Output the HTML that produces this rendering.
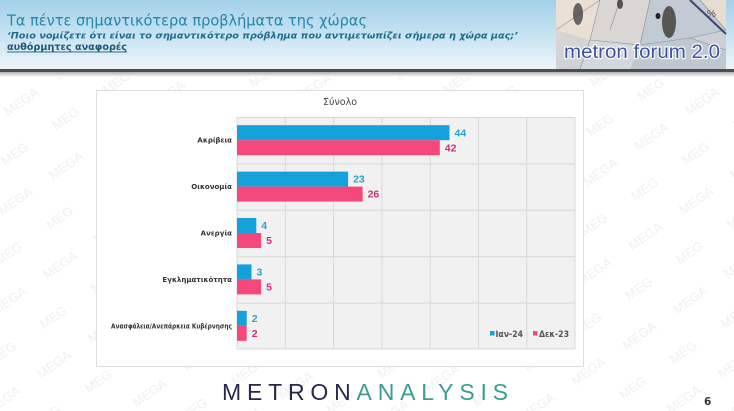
<!DOCTYPE html>
<html>
<head>
<meta charset="utf-8">
<style>
html,body{margin:0;padding:0;background:#fff;}
svg{display:block;}
</style>
</head>
<body>
<svg width="734" height="411" viewBox="0 0 734 411" xmlns="http://www.w3.org/2000/svg">
  <defs>
    <linearGradient id="hdr" x1="0" y1="0" x2="0" y2="1">
      <stop offset="0" stop-color="#a3d0e9"/>
      <stop offset="0.45" stop-color="#c3e1f1"/>
      <stop offset="1" stop-color="#eef5f9"/>
    </linearGradient>
    <linearGradient id="shd" x1="0" y1="0" x2="0" y2="1">
      <stop offset="0" stop-color="#b0b0b0"/>
      <stop offset="1" stop-color="#ffffff"/>
    </linearGradient>
    <linearGradient id="logobg" x1="0" y1="0" x2="1" y2="1">
      <stop offset="0" stop-color="#e3d9cf"/>
      <stop offset="0.5" stop-color="#cfd2d6"/>
      <stop offset="1" stop-color="#c9ced6"/>
    </linearGradient>
    <pattern id="wm" width="62" height="78" patternUnits="userSpaceOnUse" patternTransform="rotate(-35)">
      <text x="2" y="22" font-family="Liberation Sans, sans-serif" font-size="13" fill="#f0f0f0">MEGA</text>
      <text x="33" y="61" font-family="Liberation Sans, sans-serif" font-size="13" fill="#f0f0f0">MEGA</text>
    </pattern>
  </defs>

  <!-- watermark background -->
  <rect x="0" y="72" width="734" height="339" fill="url(#wm)"/>

  <!-- header -->
  <rect x="0" y="0" width="734" height="70" fill="url(#hdr)"/>
  <text x="7" y="25.5" font-family="DejaVu Sans, sans-serif" font-size="15.5" fill="#2287ab" textLength="360" lengthAdjust="spacingAndGlyphs">Τα πέντε σημαντικότερα προβλήματα της χώρας</text>
  <text x="7" y="38.5" font-family="DejaVu Sans, sans-serif" font-size="9" font-style="italic" font-weight="bold" fill="#1d6c8c" textLength="511" lengthAdjust="spacingAndGlyphs">‘Ποιο νομίζετε ότι είναι το σημαντικότερο πρόβλημα που αντιμετωπίζει σήμερα η χώρα μας;’</text>
  <text x="7" y="50" font-family="DejaVu Sans, sans-serif" font-size="9.5" font-weight="bold" fill="#1f5a73" textLength="120" lengthAdjust="spacingAndGlyphs">αυθόρμητες αναφορές</text>
  <rect x="7" y="51.5" width="120" height="0.9" fill="#1f5a73"/>

  <!-- logo -->
  <g>
    <rect x="556" y="0" width="170" height="69" fill="url(#logobg)"/>
    <polygon points="556,0 600,0 590,40 556,30" fill="#e9dfd5"/>
    <polygon points="600,0 650,0 640,45 590,40" fill="#d9d6d3"/>
    <polygon points="650,0 700,0 726,30 690,38 640,45" fill="#c2cad4"/>
    <polygon points="700,0 726,0 726,30" fill="#e6dccf"/>
    <polygon points="590,40 640,45 630,69 580,69" fill="#d4d8dd"/>
    <polygon points="640,45 690,38 726,50 726,69 630,69" fill="#bfc7d0"/>
    <g stroke="#7c7f86" stroke-width="0.6" fill="none" opacity="0.8">
      <line x1="556" y1="30" x2="600" y2="0"/>
      <line x1="590" y1="40" x2="600" y2="0"/>
      <line x1="590" y1="40" x2="640" y2="45"/>
      <line x1="640" y1="45" x2="650" y2="0"/>
      <line x1="640" y1="45" x2="690" y2="38"/>
      <line x1="690" y1="38" x2="726" y2="30"/>
      <line x1="700" y1="0" x2="726" y2="30"/>
      <line x1="580" y1="69" x2="590" y2="40"/>
      <line x1="620" y1="0" x2="610" y2="30"/>
      <line x1="690" y1="38" x2="726" y2="50"/>
    </g>
    <line x1="690" y1="0" x2="726" y2="34" stroke="#3c4570" stroke-width="2"/>
    <ellipse cx="578" cy="14" rx="5" ry="11" fill="#3a3a3a" opacity="0.75"/>
    <ellipse cx="620" cy="4" rx="3" ry="5" fill="#333" opacity="0.8"/>
    <ellipse cx="669" cy="22" rx="7" ry="16" fill="#3b3a32" opacity="0.8"/>
    <ellipse cx="658" cy="16" rx="2.5" ry="3" fill="#222"/>
    <text x="707" y="17" font-family="Liberation Sans, sans-serif" font-size="10" fill="#555">%</text>
    <text x="564" y="58" font-family="Liberation Sans, sans-serif" font-size="19.5" fill="#3d51a0" stroke="#ffffff" stroke-width="2.2" paint-order="stroke" textLength="156" lengthAdjust="spacingAndGlyphs">metron forum 2.0</text>
  </g>

  <!-- header underline -->
  <rect x="0" y="69" width="734" height="3" fill="#4d4d4d"/>
  <rect x="0" y="72" width="734" height="5" fill="url(#shd)"/>

  <!-- chart box -->
  <rect x="96.5" y="90.5" width="487" height="276" fill="#ffffff" stroke="#dddddd" stroke-width="1"/>
  <text x="340" y="105" text-anchor="middle" font-family="DejaVu Sans, sans-serif" font-size="9.5" fill="#444">Σύνολο</text>

  <!-- plot area -->
  <rect x="237" y="117" width="338" height="232" fill="#f1f1f1"/>
  <g stroke="#d8d8d8" stroke-width="1">
    <line x1="285.3" y1="117" x2="285.3" y2="349"/>
    <line x1="333.6" y1="117" x2="333.6" y2="349"/>
    <line x1="381.9" y1="117" x2="381.9" y2="349"/>
    <line x1="430.2" y1="117" x2="430.2" y2="349"/>
    <line x1="478.5" y1="117" x2="478.5" y2="349"/>
    <line x1="526.8" y1="117" x2="526.8" y2="349"/>
    <line x1="575" y1="117" x2="575" y2="349"/>
    <line x1="237" y1="117.5" x2="575" y2="117.5"/>
    <line x1="237" y1="163.9" x2="575" y2="163.9"/>
    <line x1="237" y1="210.3" x2="575" y2="210.3"/>
    <line x1="237" y1="256.7" x2="575" y2="256.7"/>
    <line x1="237" y1="303.1" x2="575" y2="303.1"/>
    <line x1="237" y1="349" x2="575" y2="349"/>
    <line x1="237" y1="117" x2="237" y2="349"/>
  </g>

  <!-- bars -->
  <g>
    <rect x="237" y="125.2" width="212.5" height="15" fill="#15a1d9"/>
    <rect x="237" y="140.2" width="202.8" height="15" fill="#f4477b"/>
    <rect x="237" y="171.6" width="111.1" height="15" fill="#15a1d9"/>
    <rect x="237" y="186.6" width="125.6" height="15" fill="#f4477b"/>
    <rect x="237" y="218" width="19.3" height="15" fill="#15a1d9"/>
    <rect x="237" y="233" width="24.1" height="15" fill="#f4477b"/>
    <rect x="237" y="264.4" width="14.5" height="15" fill="#15a1d9"/>
    <rect x="237" y="279.4" width="24.1" height="15" fill="#f4477b"/>
    <rect x="237" y="310.8" width="9.7" height="15" fill="#15a1d9"/>
    <rect x="237" y="325.8" width="9.7" height="15" fill="#f4477b"/>
  </g>

  <!-- value labels -->
  <g font-family="Liberation Sans, sans-serif" font-size="10.5" font-weight="bold">
    <text x="454.5" y="136.3" fill="#28a3cb">44</text>
    <text x="444.8" y="151.3" fill="#cf2f7c">42</text>
    <text x="353.1" y="182.7" fill="#28a3cb">23</text>
    <text x="367.6" y="197.7" fill="#cf2f7c">26</text>
    <text x="261.3" y="229.1" fill="#28a3cb">4</text>
    <text x="266.1" y="244.1" fill="#cf2f7c">5</text>
    <text x="256.5" y="275.5" fill="#28a3cb">3</text>
    <text x="266.1" y="290.5" fill="#cf2f7c">5</text>
    <text x="251.7" y="321.9" fill="#28a3cb">2</text>
    <text x="251.7" y="336.9" fill="#cf2f7c">2</text>
  </g>

  <!-- category labels -->
  <g font-family="DejaVu Sans, sans-serif" font-size="7" font-weight="bold" fill="#333" text-anchor="end">
    <text x="232" y="142.7">Ακρίβεια</text>
    <text x="232" y="189.1">Οικονομία</text>
    <text x="232" y="235.5">Ανεργία</text>
    <text x="232" y="281.9">Εγκληματικότητα</text>
    <text x="232" y="328.3" textLength="121" lengthAdjust="spacingAndGlyphs">Ανασφάλεια/Ανεπάρκεια Κυβέρνησης</text>
  </g>

  <!-- legend -->
  <rect x="490" y="331" width="4.5" height="4.5" fill="#15a1d9"/>
  <text x="495.5" y="337" font-family="DejaVu Sans, sans-serif" font-size="8.5" font-weight="bold" fill="#555" textLength="27.5" lengthAdjust="spacingAndGlyphs">Ιαν-24</text>
  <rect x="533" y="331" width="4.5" height="4.5" fill="#f4477b"/>
  <text x="539" y="337" font-family="DejaVu Sans, sans-serif" font-size="8.5" font-weight="bold" fill="#555" textLength="30" lengthAdjust="spacingAndGlyphs">Δεκ-23</text>

  <!-- footer logo -->
  <text x="222" y="400" font-family="Liberation Sans, sans-serif" font-size="23" textLength="286" lengthAdjust="spacing"><tspan fill="#28284f">METRON</tspan><tspan fill="#3a9c92">ANALYSIS</tspan></text>

  <!-- page number -->
  <text x="704" y="405" font-family="DejaVu Sans, sans-serif" font-size="10.5" font-weight="bold" fill="#333">6</text>
</svg>
</body>
</html>
